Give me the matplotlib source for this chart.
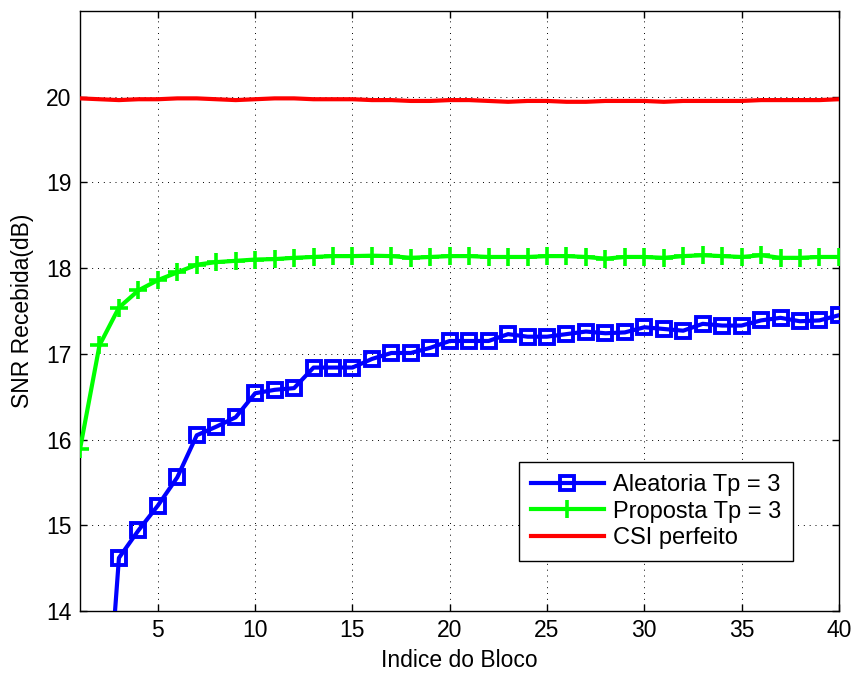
import numpy as np
import matplotlib
matplotlib.use('Agg')
import matplotlib.pyplot as plt

plt.rcParams['font.family'] = ['Liberation Sans', 'DejaVu Sans']

# dados
blocos = list(range(1, 41))
aleatoria = [9.0, 11.54, 14.62, 14.94, 15.23, 15.56, 16.05, 16.15, 16.26, 16.54,
             16.58, 16.60, 16.84, 16.84, 16.84, 16.94, 17.01, 17.01, 17.07, 17.15,
             17.15, 17.15, 17.23, 17.20, 17.20, 17.23, 17.26, 17.24, 17.25, 17.31,
             17.29, 17.27, 17.35, 17.33, 17.33, 17.39, 17.42, 17.38, 17.39, 17.45]
proposta = [15.89, 17.10, 17.54, 17.74, 17.86, 17.95, 18.04, 18.07, 18.085, 18.10,
            18.105, 18.12, 18.13, 18.14, 18.14, 18.145, 18.14, 18.12, 18.13, 18.14,
            18.14, 18.13, 18.13, 18.13, 18.14, 18.14, 18.13, 18.11, 18.13, 18.13,
            18.12, 18.14, 18.15, 18.14, 18.13, 18.15, 18.12, 18.12, 18.13, 18.13]
csi = [19.98, 19.97, 19.96, 19.97, 19.97, 19.98, 19.98, 19.97, 19.96, 19.97,
       19.98, 19.98, 19.97, 19.97, 19.97, 19.96, 19.96, 19.95, 19.95, 19.96,
       19.96, 19.95, 19.94, 19.95, 19.95, 19.94, 19.94, 19.95, 19.95, 19.95,
       19.94, 19.95, 19.95, 19.95, 19.95, 19.96, 19.96, 19.96, 19.96, 19.97]

fs = 16.5

fig = plt.figure(figsize=(8.56, 6.75), dpi=100)
ax = fig.add_axes([0.0935, 0.0948, 0.8865, 0.889])

ax.plot(blocos, aleatoria, '-s', color='#0000ff', lw=3, ms=9.5, mew=2.8,
        mfc='none', label='Aleatoria Tp = 3', zorder=3)
ax.plot(blocos, proposta, '-+', color='#00ff00', lw=3, ms=13, mew=2.6,
        label='Proposta Tp = 3', zorder=3)
ax.plot(blocos, csi, '-', color='#ff0000', lw=3, label='CSI perfeito', zorder=3)

ax.set_xlim(1, 40)
ax.set_ylim(14, 21)
ax.set_xticks(range(5, 41, 5))
ax.set_yticks(range(14, 21))
ax.tick_params(direction='in', top=True, right=True, labelsize=fs, length=5,
               width=1, pad=6)
ax.grid(True, linestyle=(0, (1, 5)), color='black', linewidth=0.7)
for s in ax.spines.values():
    s.set_linewidth(1)

ax.set_xlabel('Indice do Bloco', fontsize=fs, labelpad=5)
ax.set_ylabel('SNR Recebida(dB)', fontsize=fs, labelpad=9)

leg = ax.legend(loc='lower right', bbox_to_anchor=(0.94, 0.083), fontsize=17,
                fancybox=False, framealpha=1, edgecolor='black', borderaxespad=0,
                handlelength=3.1, handletextpad=0.4, labelspacing=0.2,
                borderpad=0.5)
leg.get_frame().set_linewidth(1)

fig.savefig('out.png', dpi=100)
